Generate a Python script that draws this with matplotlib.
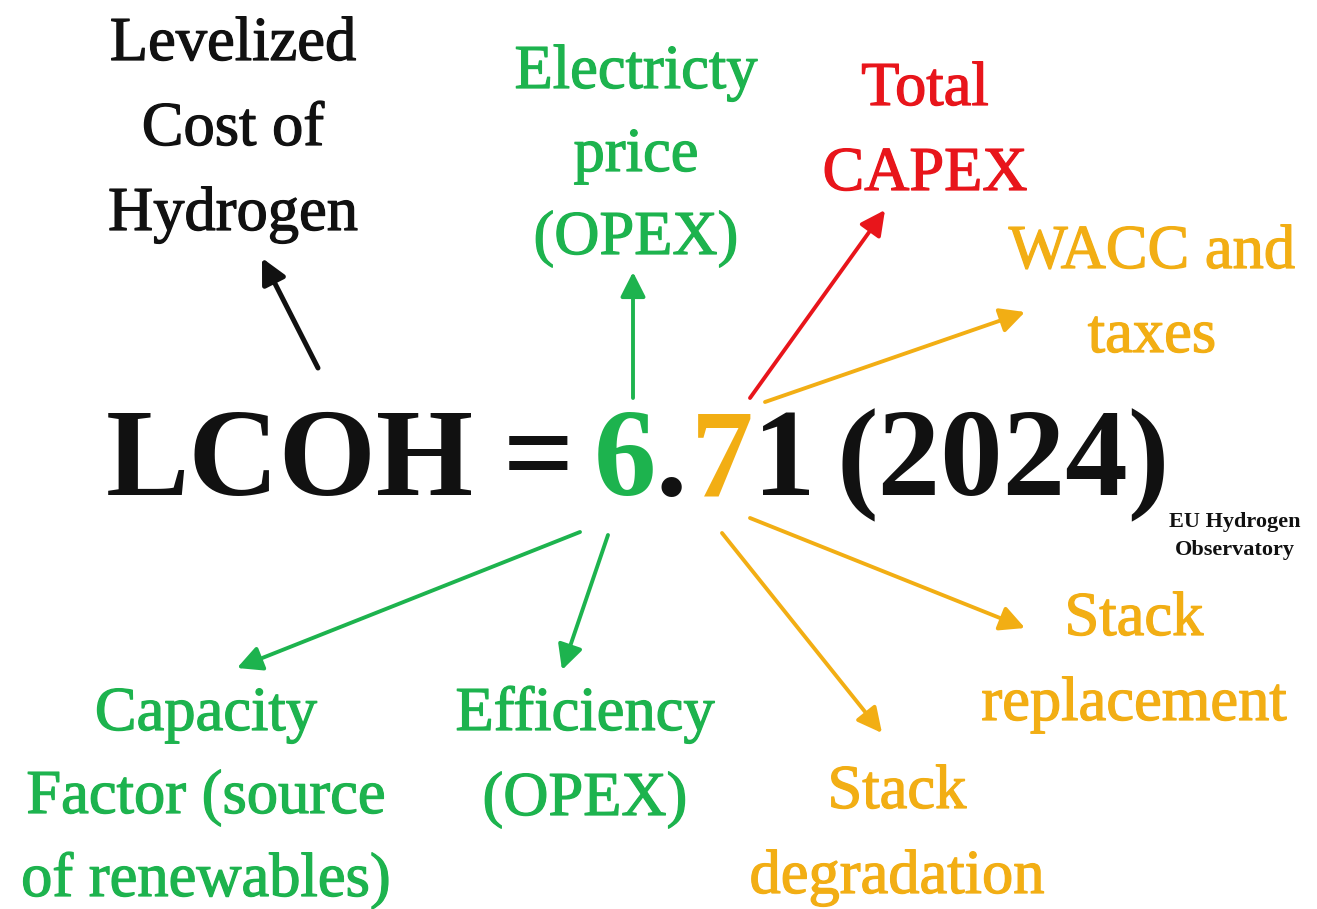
import matplotlib
matplotlib.use("Agg")
import matplotlib.pyplot as plt
import matplotlib.patheffects as pe

GREEN = "#1db34e"
ORANGE = "#f2ae14"
RED = "#e8151b"
BLACK = "#111111"

# ---- content ----
label_lines = [
    ["Levelized", "Cost of", "Hydrogen"],
    ["Electricty", "price", "(OPEX)"],
    ["Total", "CAPEX"],
    ["WACC and", "taxes"],
    ["Stack", "replacement"],
    ["Stack", "degradation"],
    ["Efficiency", "(OPEX)"],
    ["Capacity", "Factor (source", "of renewables)"],
]
label_colors = [BLACK, GREEN, RED, ORANGE, ORANGE, ORANGE, GREEN, GREEN]

# layout of labels: center x, first baseline y, line step (pixels)
label_x = [233, 636, 925, 1152, 1134, 897, 585, 206]
label_y0 = [60, 88, 105, 268, 635, 808, 730, 730]
label_step = [85, 83, 85, 84, 85, 85, 85, 83]

equation_parts = ["LCOH", "=", "6", ".", "7", "1", "(2024)"]
equation_colors = [BLACK, BLACK, GREEN, BLACK, ORANGE, BLACK, BLACK]
equation_x = [290, 538, 625, 671, 722, 784, 1003]

source_lines = ["EU Hydrogen", "Observatory"]

# arrows: (tail, head, colour)
arrow_tails = [(318, 368), (633, 398), (750, 398), (765, 402), (750, 518),
               (722, 533), (608, 535), (580, 532)]
arrow_heads = [(262, 258), (633, 272), (885, 210), (1025, 312), (1025, 628),
               (882, 733), (562, 670), (237, 668)]
arrow_colors = [BLACK, GREEN, RED, ORANGE, ORANGE, ORANGE, GREEN, GREEN]

W, H = 1317, 909
fig = plt.figure(figsize=(W / 100, H / 100), dpi=100)
ax = fig.add_axes([0, 0, 1, 1])
ax.set_xlim(0, W)
ax.set_ylim(H, 0)
ax.axis("off")

FONT = "Liberation Serif"

for lines, col, x, y0, step in zip(label_lines, label_colors, label_x, label_y0, label_step):
    for i, line in enumerate(lines):
        ax.text(x, y0 + i * step, line, ha="center", va="baseline",
                fontsize=45, color=col, family=FONT,
                path_effects=[pe.withStroke(linewidth=0.9, foreground=col)])

for part, col, x in zip(equation_parts, equation_colors, equation_x):
    ax.text(x, 495, part, ha="center", va="baseline", fontsize=90,
            fontweight="bold", color=col, family=FONT)

for i, line in enumerate(source_lines):
    ax.text(1235, 527 + i * 28, line, ha="center", va="baseline", fontsize=16,
            fontweight="bold", color=BLACK, family=FONT)

for (tx, ty), (hx, hy), col in zip(arrow_tails, arrow_heads, arrow_colors):
    lw = 3.6 if col == BLACK else 2.8
    ax.annotate("", xy=(hx, hy), xytext=(tx, ty),
                arrowprops=dict(arrowstyle="-|>,head_length=0.75,head_width=0.38",
                                lw=lw, color=col, shrinkA=0, shrinkB=0,
                                mutation_scale=20))

fig.savefig("out.png", dpi=100, facecolor="white")
